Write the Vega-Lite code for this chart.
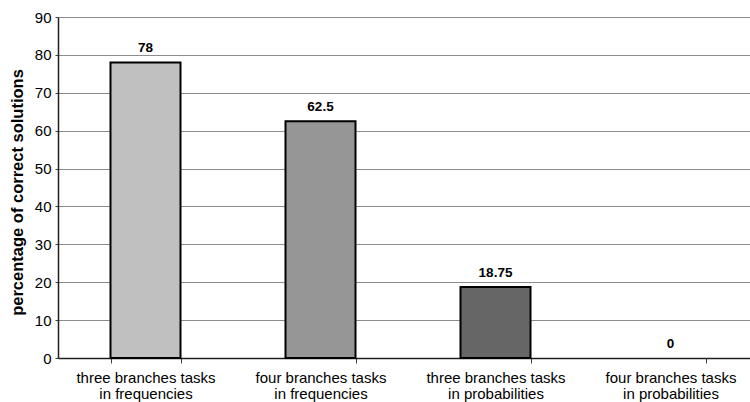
{
  "$schema": "https://vega.github.io/schema/vega-lite/v6.json",
  "autosize": {"type": "none"},
  "padding": {"left": 58, "top": 17, "right": 0, "bottom": 44},
  "width": 700,
  "height": 341,
  "background": "white",
  "data": {"values": [
    {"task": "three branches tasks in frequencies", "value": 78, "label": "78"},
    {"task": "four branches tasks in frequencies", "value": 62.5, "label": "62.5"},
    {"task": "three branches tasks in probabilities", "value": 18.75, "label": "18.75"},
    {"task": "four branches tasks in probabilities", "value": 0, "label": "0"}
  ]},
  "config": {
    "view": {"stroke": null},
    "font": "Liberation Sans"
  },
  "encoding": {
    "x": {
      "field": "task", "type": "nominal", "sort": null,
      "scale": {"paddingInner": 0.6, "paddingOuter": 0.3},
      "axis": {
        "title": null,
        "labelExpr": "length(split(datum.label, ' in ')) < 2 ? '' : [split(datum.label, ' in ')[0], 'in ' + split(datum.label, ' in ')[1]]",
        "labelAngle": 0,
        "labelFont": "Liberation Sans",
        "labelFontSize": 15,
        "labelColor": "black",
        "labelPadding": 7,
        "labelLineHeight": 16,
        "tickBand": "extent",
        "tickColor": "#404040",
        "tickSize": 5,
        "domainColor": "#202020",
        "domainWidth": 1.5,
        "grid": false
      }
    },
    "y": {
      "field": "value", "type": "quantitative",
      "scale": {"domain": [0, 90], "nice": false},
      "axis": {
        "title": "percentage of correct solutions",
        "titleFont": "Liberation Sans",
        "titleFontSize": 16.5,
        "titleFontWeight": "bold",
        "titleColor": "black",
        "titlePadding": 9,
        "titleY": 175,
        "values": [0, 10, 20, 30, 40, 50, 60, 70, 80, 90],
        "labelOverlap": false,
        "labelFont": "Liberation Sans",
        "labelFontSize": 15,
        "labelColor": "black",
        "labelPadding": 4,
        "tickSize": 3,
        "tickColor": "#404040",
        "domainColor": "#202020",
        "domainWidth": 1.5,
        "grid": true,
        "gridColor": "#8c8c8c",
        "gridWidth": 1
      }
    }
  },
  "layer": [
    {
      "transform": [{"filter": "datum.value > 0"}],
      "mark": {"type": "bar", "stroke": "black", "strokeWidth": 2},
      "encoding": {
        "fill": {
          "field": "task", "type": "nominal", "sort": null, "legend": null,
          "scale": {"range": ["#c0c0c0", "#969696", "#666666", "#333333"]}
        }
      }
    },
    {
      "mark": {"type": "text", "font": "Liberation Sans", "fontSize": 13.5, "fontWeight": "bold", "color": "black", "baseline": "alphabetic", "dy": -10},
      "encoding": {
        "text": {"field": "label"}
      }
    }
  ]
}
